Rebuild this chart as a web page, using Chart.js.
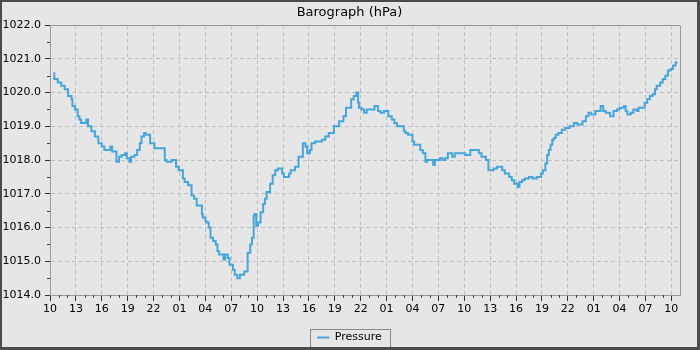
<!DOCTYPE html>
<html>
<head>
<meta charset="utf-8">
<title>Barograph (hPa)</title>
<script src="https://cdn.jsdelivr.net/npm/chart.js"></script>
<style>
  body { margin: 0; background: #e6e6e6; }
  #frame {
    width: 700px; height: 350px; box-sizing: border-box;
    border-style: solid; border-color: #4b4b4b; border-width: 2px 3px 3px 2px;
    overflow: hidden; background: #e6e6e6;
  }
  #wrap { position: relative; width: 695px; height: 351px; }
</style>
</head>
<body>
<div id="frame"><div id="wrap"><canvas id="chart"></canvas></div></div>
<script>
// hours since the first tick (10:00)
const hours = [
  0.5, 0.9, 1.3, 1.7, 2.1, 2.5, 2.6, 2.9, 3.2, 3.4,
  3.6, 4.2, 4.4, 4.8, 5.2, 5.6, 6.0, 6.3, 7.0, 7.2,
  7.7, 8.0, 8.3, 8.7, 8.9, 9.2, 9.4, 9.8, 10.1, 10.4,
  10.6, 10.9, 11.1, 11.6, 12.1, 13.3, 13.5, 14.1, 14.6, 14.9,
  15.4, 15.6, 16.0, 16.4, 16.7, 17.0, 17.6, 17.7, 18.0, 18.1,
  18.4, 18.6, 18.9, 19.2, 19.4, 19.6, 20.1, 20.3, 20.6, 20.8,
  21.2, 21.4, 21.7, 22.0, 22.5, 22.9, 23.2, 23.4, 23.6, 23.7,
  23.9, 24.1, 24.4, 24.7, 24.9, 25.1, 25.5, 25.8, 26.1, 26.4,
  26.9, 27.1, 27.7, 27.9, 28.4, 28.8, 29.3, 29.6, 29.8, 30.1,
  30.3, 30.7, 31.5, 31.9, 32.3, 32.9, 33.5, 34.0, 34.3, 34.9,
  35.2, 35.5, 35.7, 35.8, 36.1, 36.4, 36.7, 37.6, 38.0, 38.3,
  38.7, 39.2, 39.6, 39.9, 40.2, 41.0, 41.2, 41.5, 42.0, 42.2,
  42.9, 43.2, 43.5, 43.7, 44.4, 44.6, 45.2, 45.5, 45.8, 46.1,
  46.6, 46.9, 48.1, 48.7, 49.1, 49.7, 50.0, 50.5, 50.8, 51.4,
  51.8, 52.4, 52.7, 53.2, 53.5, 53.8, 54.2, 54.4, 54.7, 55.0,
  55.5, 55.9, 56.4, 56.9, 57.1, 57.4, 57.6, 57.8, 58.0, 58.2,
  58.4, 58.6, 58.9, 59.3, 59.7, 60.2, 60.7, 61.1, 61.7, 62.1,
  62.4, 62.7, 63.2, 63.8, 64.1, 64.4, 64.9, 65.3, 65.7, 66.0,
  66.5, 66.7, 66.9, 67.3, 67.6, 68.0, 68.2, 68.9, 69.2, 69.5,
  69.8, 70.1, 70.3, 70.7, 71.0, 71.3, 71.6, 71.9, 72.2, 72.5, 72.7
];
const pressure = [
  1020.6, 1020.4, 1020.3, 1020.2, 1020.1, 1019.9, 1019.8, 1019.6, 1019.5, 1019.3,
  1019.2, 1019.1, 1019.2, 1019.0, 1018.85, 1018.7, 1018.5, 1018.4, 1018.3, 1018.4,
  1018.25, 1017.95, 1018.1, 1018.15, 1018.2, 1018.05, 1017.95, 1018.1, 1018.15, 1018.3,
  1018.5, 1018.7, 1018.8, 1018.75, 1018.5, 1018.35, 1018.0, 1017.95, 1018.0, 1017.8,
  1017.7, 1017.45, 1017.35, 1017.25, 1016.95, 1016.85, 1016.65, 1016.4, 1016.3, 1016.2,
  1016.15, 1016.0, 1015.7, 1015.6, 1015.5, 1015.3, 1015.2, 1015.05, 1015.2, 1015.1,
  1014.9, 1014.75, 1014.6, 1014.5, 1014.6, 1014.7, 1015.25, 1015.5, 1015.7, 1016.35,
  1016.4, 1016.05, 1016.15, 1016.45, 1016.7, 1016.85, 1017.05, 1017.3, 1017.55, 1017.7,
  1017.75, 1017.6, 1017.5, 1017.6, 1017.7, 1017.8, 1018.1, 1018.5, 1018.4, 1018.2,
  1018.3, 1018.5, 1018.55, 1018.6, 1018.7, 1018.8, 1019.0, 1019.15, 1019.3, 1019.55,
  1019.8, 1019.9, 1020.0, 1019.7, 1019.55, 1019.5, 1019.4, 1019.5, 1019.6, 1019.45,
  1019.4, 1019.45, 1019.3, 1019.2, 1019.1, 1019.0, 1018.85, 1018.8, 1018.75, 1018.55,
  1018.45, 1018.3, 1018.2, 1017.95, 1018.0, 1017.85, 1018.0, 1018.05, 1018.0, 1018.05,
  1018.2, 1018.1, 1018.2, 1018.15, 1018.3, 1018.3, 1018.2, 1018.1, 1018.0, 1017.7,
  1017.75, 1017.8, 1017.7, 1017.6, 1017.5, 1017.4, 1017.3, 1017.2, 1017.35, 1017.4,
  1017.45, 1017.5, 1017.45, 1017.5, 1017.6, 1017.7, 1017.9, 1018.15, 1018.3, 1018.45,
  1018.6, 1018.65, 1018.75, 1018.8, 1018.9, 1018.95, 1019.0, 1019.1, 1019.05, 1019.15,
  1019.3, 1019.4, 1019.35, 1019.45, 1019.6, 1019.45, 1019.4, 1019.3, 1019.45, 1019.5,
  1019.55, 1019.6, 1019.45, 1019.35, 1019.4, 1019.5, 1019.45, 1019.55, 1019.7, 1019.8,
  1019.9, 1019.95, 1020.1, 1020.2, 1020.3, 1020.4, 1020.5, 1020.65, 1020.7, 1020.8, 1020.9
];
const startHour = 10;   // first x tick label
const yMin = 1014, yMax = 1022;

Chart.defaults.font.family = 'DejaVu Sans';
Chart.defaults.color = '#000';

// minor ticks, top/right edges of the plot box, frame round the legend
const extras = {
  id: 'extras',
  afterDraw(chart) {
    const { ctx, chartArea: a, scales: { x, y } } = chart;
    ctx.save();
    ctx.lineWidth = 1;
    ctx.strokeStyle = '#444';
    ctx.beginPath();
    for (let h = 1; h < x.max; h++) {
      if (h % 3 === 0) continue;
      const px = Math.round(x.getPixelForValue(h)) + 0.5;
      ctx.moveTo(px, a.bottom); ctx.lineTo(px, a.bottom + 3);
    }
    for (let v = yMin + 0.5; v < yMax; v += 1) {
      const py = Math.round(y.getPixelForValue(v)) + 0.5;
      ctx.moveTo(a.left - 3, py); ctx.lineTo(a.left, py);
    }
    ctx.stroke();

    ctx.strokeStyle = '#999';
    ctx.beginPath();
    ctx.moveTo(a.left, Math.round(a.top) + 0.5);
    ctx.lineTo(Math.round(a.right) + 0.5, Math.round(a.top) + 0.5);
    ctx.lineTo(Math.round(a.right) + 0.5, a.bottom);
    ctx.stroke();

    const hb = chart.legend.legendHitBoxes[0];
    if (hb) {
      const cy = hb.top + hb.height / 2;
      ctx.strokeStyle = '#888';
      ctx.strokeRect(Math.round(hb.left - 7) + 0.5, Math.round(cy - 9) + 0.5, Math.round(hb.width + 16), 18);
    }
    ctx.restore();
  }
};

new Chart(document.getElementById('chart'), {
  type: 'line',
  data: {
    datasets: [{
      label: 'Pressure',
      data: hours.map((h, i) => ({ x: h, y: pressure[i] })),
      borderColor: '#44a6db',
      backgroundColor: '#44a6db',
      borderWidth: 2,
      pointRadius: 0,
      pointStyle: 'line',
      stepped: 'after',
      fill: false
    }]
  },
  options: {
    responsive: true,
    maintainAspectRatio: false,
    animation: false,
    layout: { padding: 0 },
    plugins: {
      title: {
        display: true, text: 'Barograph (hPa)', color: '#000',
        font: { size: 13, weight: 'normal' }, padding: { top: 3, bottom: 4.4 }
      },
      legend: {
        position: 'bottom',
        labels: { usePointStyle: true, pointStyleWidth: 12, boxHeight: 8, color: '#000', font: { size: 11 }, padding: 6 }
      },
      tooltip: { enabled: false }
    },
    scales: {
      x: {
        type: 'linear', min: 0, max: 73,
        afterFit: s => { s.height = 31; },
        ticks: {
          stepSize: 3, includeBounds: false, autoSkip: false, maxRotation: 0,
          color: '#000', font: { size: 11 }, padding: 2,
          callback: v => String((startHour + v) % 24).padStart(2, '0')
        },
        grid: { color: '#c0c0c0', tickColor: '#333', tickLength: 6 },
        border: { color: '#999', dash: [4, 3] }
      },
      y: {
        min: yMin, max: yMax,
        afterFit: s => { s.width = 48; },
        ticks: {
          stepSize: 1, color: '#000', font: { size: 11 }, padding: 4,
          callback: v => v.toFixed(1)
        },
        grid: { color: '#c0c0c0', tickColor: '#333', tickLength: 5 },
        border: { color: '#999', dash: [4, 3] }
      },
      // empty right-hand strip so the title and legend stay centred on the page
      pad: {
        position: 'right', display: true,
        afterFit: s => { s.width = 17; },
        ticks: { display: false },
        grid: { display: false, drawTicks: false },
        border: { display: false }
      }
    }
  },
  plugins: [extras]
});
</script>
</body>
</html>
